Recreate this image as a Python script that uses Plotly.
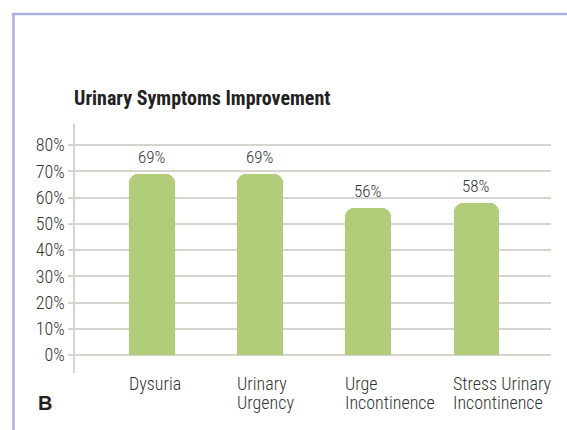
import plotly.graph_objects as go

categories = ["Dysuria", "Urinary<br>Urgency", "Urge<br>Incontinence", "Stress Urinary<br>Incontinence"]
values = [69, 69, 56, 58]
tick_vals = [0, 10, 20, 30, 40, 50, 60, 70, 80]
tick_text = ["0%", "10%", "20%", "30%", "40%", "50%", "60%", "70%", "80%"]
title_text = "Urinary Symptoms Improvement"
panel_label = "B"

FONT = "Roboto Condensed, DejaVu Sans Condensed, sans-serif"
TXT = "#333333"
GRID = "#d5d5cd"
BAR = "#b2cd7a"

W, H = 567, 430
xs = list(range(len(categories)))

fig = go.Figure()
fig.add_trace(go.Bar(
    x=xs, y=values, width=0.42,
    marker=dict(color=BAR, line=dict(width=0), cornerradius=9),
    hoverinfo="skip",
))

annotations = []
for i, v in enumerate(values):
    annotations.append(dict(x=i, y=v, xref="x", yref="y", text=f"{v}%",
                            showarrow=False, yanchor="bottom", yshift=5,
                            font=dict(family=FONT, size=17, color=TXT, weight=300)))
    for j, line in enumerate(categories[i].split("<br>")):
        annotations.append(dict(x=i, y=0, xref="x", yref="y", text=line,
                                showarrow=False, yanchor="top", xanchor="left",
                                xshift=-25, yshift=-16 - 19 * j, align="left",
                                font=dict(family=FONT, size=18, color=TXT, weight=300)))

annotations.append(dict(x=72 / W, y=1 - 98 / H, xref="paper", yref="paper",
                        text=f"<b>{title_text}</b>", showarrow=False,
                        xanchor="left", yanchor="middle",
                        font=dict(family=FONT, size=20, color="#222222")))
annotations.append(dict(x=36 / W, y=1 - 403 / H, xref="paper", yref="paper",
                        text=f"<b>{panel_label}</b>", showarrow=False,
                        xanchor="left", yanchor="middle",
                        font=dict(family="Liberation Sans, Arial, sans-serif", size=20, color="#222222")))

shapes = [
    dict(type="line", xref="paper", yref="paper", x0=12 / W, x1=1.0, y0=1 - 14 / H, y1=1 - 14 / H,
         line=dict(color="#adb2dc", width=2.5), layer="above"),
    dict(type="line", xref="paper", yref="paper", x0=13.5 / W, x1=13.5 / W, y0=1 - 13 / H, y1=0,
         line=dict(color="#adb2dc", width=2.5), layer="above"),
]

fig.update_layout(
    width=W, height=H,
    margin=dict(l=0, r=0, t=0, b=0),
    paper_bgcolor="white", plot_bgcolor="white",
    showlegend=False,
    annotations=annotations,
    shapes=shapes,
    xaxis=dict(domain=[75 / W, 551 / W], range=[-0.71, 3.69], showticklabels=False,
               showgrid=False, zeroline=False, showline=False, ticks=""),
    yaxis=dict(domain=[1 - 373 / H, 1 - 124 / H], range=[-6.8, 88], tickvals=tick_vals, ticktext=tick_text,
               showgrid=True, gridcolor=GRID, gridwidth=1.5, zeroline=False,
               showline=True, linecolor=GRID, linewidth=1.5,
               ticks="outside", ticklen=5, tickcolor=GRID, tickwidth=1.5,
               tickfont=dict(family=FONT, size=18, color=TXT, weight=300)),
    bargap=0,
)

fig.write_html("out.html", config={"displayModeBar": False},
               post_script="document.body.style.margin='0';")
